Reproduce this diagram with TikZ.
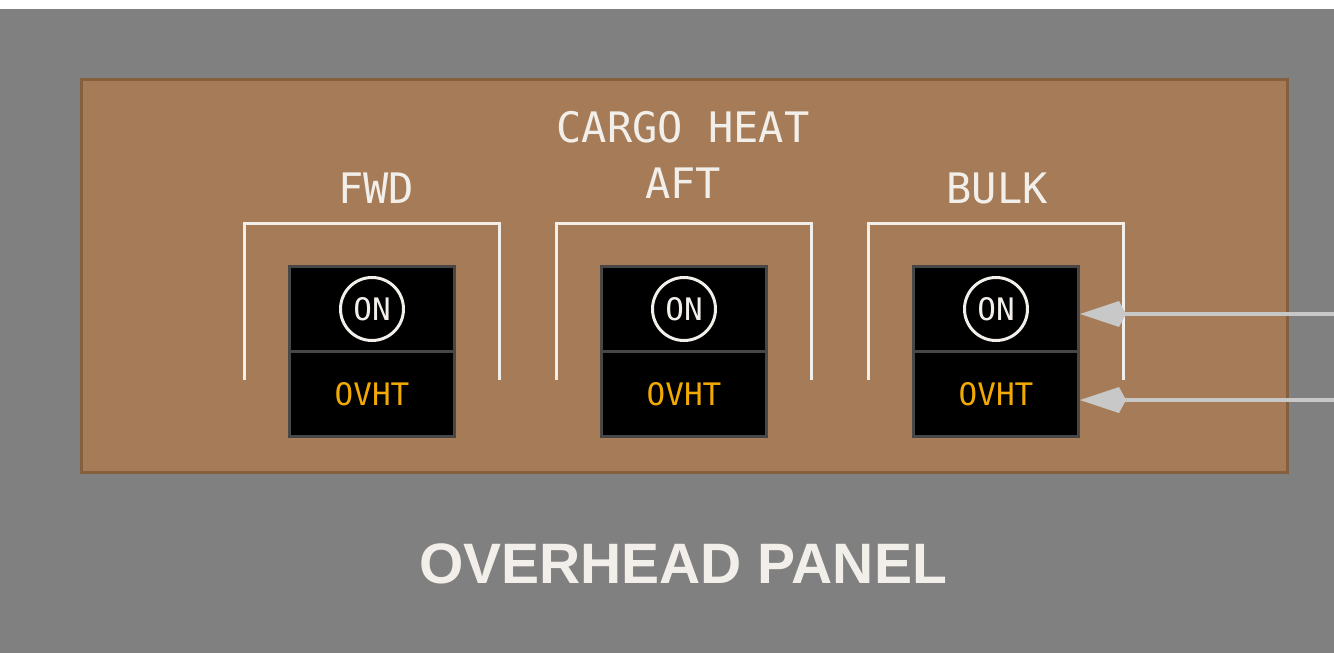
\documentclass[tikz,border=0pt]{standalone}
\usepackage{fontspec}
\setmainfont{Liberation Sans}
\newfontfamily\panelfont{DejaVu Sans Mono}
\usepackage{tikz}
\usetikzlibrary{arrows.meta}
\definecolor{cgrey}{HTML}{808080}
\definecolor{cbrown}{HTML}{A67C58}
\definecolor{cedge}{HTML}{85603F}
\definecolor{cwhite}{HTML}{F2EFEA}
\definecolor{camber}{HTML}{F2AA00}
\definecolor{cframe}{HTML}{474747}
\definecolor{cpointer}{HTML}{C8C8C8}
\tikzset{
  lampbox/.style={draw=cframe,fill=black,line width=3pt,minimum width=165pt,minimum height=85pt,inner sep=0pt},
  ring/.style={circle,draw=cwhite,line width=3pt,minimum size=63pt,inner sep=0pt,text=cwhite,font=\panelfont\fontsize{31}{36}\selectfont},
  guard/.style={draw=cwhite,line width=3pt},
  pointer/.style={draw=cpointer,line width=4pt,-{Kite[length=46pt,width=26pt,inset=7pt]}}
}

\begin{document}
\begin{tikzpicture}[x=1pt,y=-1pt,font=\panelfont]
\useasboundingbox (0,0) rectangle (1334,653);
\fill[white] (0,0) rectangle (1334,653);
\fill[cgrey] (0,9) rectangle (1334,653);
\filldraw[fill=cbrown,draw=cedge,line width=3pt] (81.5,79.5) rectangle (1287.5,472.5);
\node[text=cwhite,font=\panelfont\fontsize{42}{48}\selectfont] (title) at (683,127) {CARGO HEAT};
\foreach \sw/\cx/\lab/\lx/\ly in {%
   fwd/372/FWD/376/188,
   aft/684/AFT/683/183,
   bulk/996/BULK/997/188}{
  \node[text=cwhite,font=\panelfont\fontsize{42}{48}\selectfont] (\sw-lab) at (\lx,\ly) {\lab};
  \draw[guard] (\cx-128,380) -- (\cx-128,223) -- (\cx+127,223) -- (\cx+127,380);
  \node[lampbox] (\sw-on) at (\cx,309) {};
  \node[lampbox,text=camber,font=\panelfont\fontsize{31}{36}\selectfont] (\sw-ovht) at (\cx,394) {OVHT};
  \node[ring] (\sw-ring) at (\sw-on.center) {ON};
}
% feeds into the bulk switch
\coordinate (feed-on) at (1334,314);
\coordinate (feed-ovht) at (1334,400);
\draw[pointer] (feed-on) -- (feed-on -| bulk-on.east);
\draw[pointer] (feed-ovht) -- (feed-ovht -| bulk-ovht.east);
\node[text=cwhite,font=\normalfont\bfseries\fontsize{57}{64}\selectfont] (caption) at (683,564) {OVERHEAD PANEL};
\end{tikzpicture}
\end{document}
